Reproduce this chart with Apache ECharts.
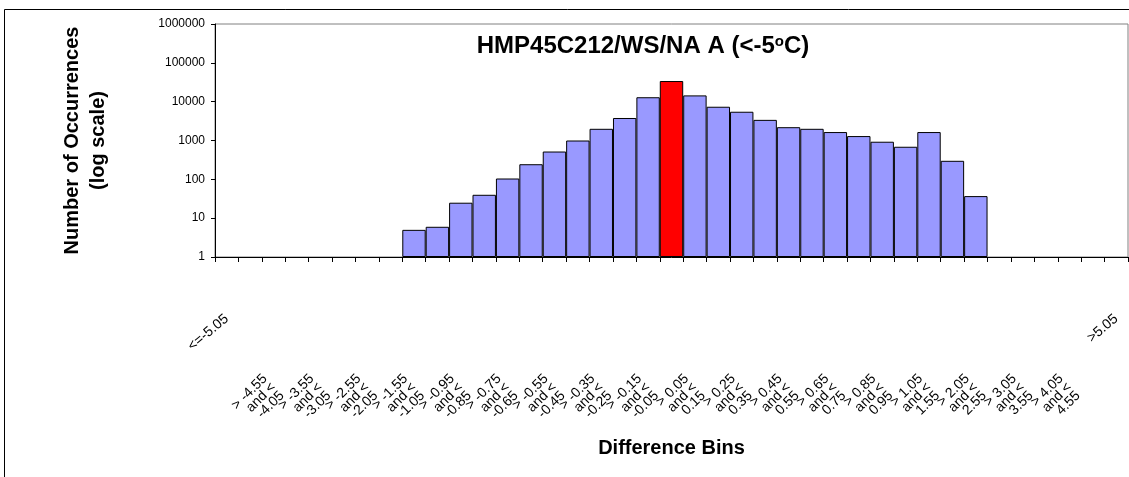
<!DOCTYPE html>
<html>
<head>
<meta charset="utf-8">
<script src="https://cdn.jsdelivr.net/npm/echarts@6/dist/echarts.min.js"></script>
<style>
  html, body { margin: 0; padding: 0; background: #fff; }
  #main { width: 1129px; height: 477px; }
</style>
</head>
<body>
<div id="main"></div>
<script>
// difference bins (39 categories)
const bins = [
  '<=-5.05',
  '> -5.05 and <= -4.55', '> -4.55 and <= -4.05', '> -4.05 and <= -3.55', '> -3.55 and <= -3.05',
  '> -3.05 and <= -2.55', '> -2.55 and <= -2.05', '> -2.05 and <= -1.55', '> -1.55 and <= -1.05',
  '> -1.05 and <= -0.95', '> -0.95 and <= -0.85', '> -0.85 and <= -0.75', '> -0.75 and <= -0.65',
  '> -0.65 and <= -0.55', '> -0.55 and <= -0.45', '> -0.45 and <= -0.35', '> -0.35 and <= -0.25',
  '> -0.25 and <= -0.15', '> -0.15 and <= -0.05', '> -0.05 and <= 0.05', '> 0.05 and <= 0.15',
  '> 0.15 and <= 0.25', '> 0.25 and <= 0.35', '> 0.35 and <= 0.45', '> 0.45 and <= 0.55',
  '> 0.55 and <= 0.65', '> 0.65 and <= 0.75', '> 0.75 and <= 0.85', '> 0.85 and <= 0.95',
  '> 0.95 and <= 1.05', '> 1.05 and <= 1.55', '> 1.55 and <= 2.05', '> 2.05 and <= 2.55',
  '> 2.55 and <= 3.05', '> 3.05 and <= 3.55', '> 3.55 and <= 4.05', '> 4.05 and <= 4.55',
  '> 4.55 and <= 5.05',
  '>5.05'
];

// occurrences per bin (null = empty bin)
const occurrences = [
  null, null, null, null, null, null, null, null,
  5, 6, 25, 40, 105, 245, 520, 1000, 2000, 3800, 13000, 34000,
  14500, 7400, 5500, 3400, 2200, 2000, 1650, 1300, 930, 690, 1650, 300, 37,
  null, null, null, null, null, null
];

const centreBin = 19; // the zero-difference bin, drawn red

const yTicks = [1, 10, 100, 1000, 10000, 100000, 1000000];

const FONT = 'Liberation Sans, Arial, sans-serif';
const lastIdx = bins.length - 1;

const chart = echarts.init(document.getElementById('main'));

const option = {
  animation: false,
  backgroundColor: '#fff',
  textStyle: { fontFamily: FONT },
  title: {
    text: '{t|HMP45C212/WS/NA A (<-5}{s|o}{t|C)}',
    left: 638,
    top: 29,
    textAlign: 'center',
    textStyle: {
      rich: {
        t: { fontSize: 24, fontWeight: 'bold', color: '#000', fontFamily: FONT },
        s: { fontSize: 15, fontWeight: 'bold', color: '#000', fontFamily: FONT, verticalAlign: 'top' }
      }
    }
  },
  graphic: [{
    type: 'rect',
    shape: { x: 4.5, y: 9.5, width: 1300, height: 600 },
    style: { fill: 'none', stroke: '#000', lineWidth: 1 },
    silent: true
  }],
  grid: {
    left: 215, right: 1, top: 24, bottom: 220,
    show: true, borderColor: '#808080', borderWidth: 1
  },
  xAxis: [{
    // end bins: labels sit higher
    type: 'category',
    data: bins,
    position: 'bottom',
    boundaryGap: true,
    axisLine: { lineStyle: { color: '#000', width: 1 } },
    axisTick: { show: true, interval: 0, length: 5, lineStyle: { color: '#000' } },
    axisLabel: {
      interval: 0,
      hideOverlap: false,
      rotate: 40,
      margin: 60,
      fontSize: 14,
      color: '#000',
      fontFamily: FONT,
      formatter: (v, i) => (i === 0 || i === lastIdx ? v : '')
    },
    name: 'Difference Bins',
    nameLocation: 'middle',
    nameGap: 181,
    nameTextStyle: { fontSize: 20, fontWeight: 'bold', color: '#000', fontFamily: FONT }
  }, {
    // inner bins: wrapped labels, every other one
    type: 'category',
    data: bins,
    position: 'bottom',
    boundaryGap: true,
    axisLine: { show: false },
    axisTick: { show: false },
    axisLabel: {
      interval: 0,
      hideOverlap: false,
      rotate: 45,
      margin: 128,
      fontSize: 14,
      lineHeight: 12,
      color: '#000',
      fontFamily: FONT,
      formatter: (v, i) => (i > 0 && i < lastIdx && i % 2 === 0
        ? v.replace(' and <= ', '\nand <\n') : '')
    }
  }],
  yAxis: {
    type: 'log',
    logBase: 10,
    min: yTicks[0],
    max: yTicks[yTicks.length - 1],
    axisLine: { show: true, lineStyle: { color: '#000', width: 1 } },
    axisTick: { show: true, length: 4, lineStyle: { color: '#000' } },
    splitLine: { show: false },
    axisLabel: {
      fontSize: 12, color: '#000', margin: 10, fontFamily: FONT,
      formatter: (v) => String(v)
    },
    name: 'Number of Occurrences\n(log scale)',
    nameLocation: 'middle',
    nameGap: 104,
    nameTextStyle: { fontSize: 20, fontWeight: 'bold', color: '#000', lineHeight: 26, fontFamily: FONT }
  },
  series: [{
    type: 'bar',
    xAxisIndex: 0,
    barCategoryGap: 0,
    itemStyle: { color: '#9999ff', borderColor: '#000', borderWidth: 1 },
    data: occurrences.map((v, i) => i === centreBin
      ? { value: v, itemStyle: { color: '#ff0000' } }
      : (v === null ? '-' : v))
  }]
};

chart.setOption(option);
</script>
</body>
</html>
